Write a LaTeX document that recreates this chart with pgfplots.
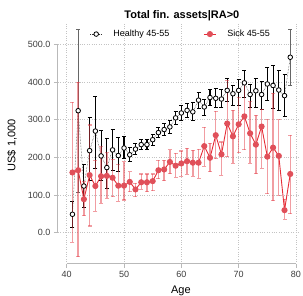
\documentclass[border=0pt]{standalone}
\usepackage{pgfplots}
\pgfplotsset{compat=1.18}
\usepackage{pgfplotstable}
\usepackage{fontspec}
\setmainfont{Liberation Sans}
\definecolor{redl}{RGB}{230,45,55}
\definecolor{redm}{RGB}{224,80,90}
\definecolor{redbar}{RGB}{228,60,70}
\definecolor{gridc}{RGB}{195,195,195}
\definecolor{axc}{RGB}{185,185,185}
\definecolor{tickc}{RGB}{60,60,60}

\pgfplotstableread{
x y ep em
41 49 34 35
43 124 56 56
44 218 88 78
45 270 93 98
46 204 68 64
47 173 77 55
48 220 55 55
49 205 47 42
50 225 30 28
51 207 20 19
52 222 16 15
53 234 14 14
54 234 14 14
55 247 15 15
56 266 14 14
57 274 16 15
58 281 17 17
59 305 17 18
60 318 19 19
61 325 18 19
62 321 24 22
63 352 20 21
64 334 21 22
65 359 21 22
66 357 26 23
67 355 25 23
68 378 32 30
69 369 23 30
70 378 30 41
71 398 32 40
72 367 27 34
73 377 34 43
74 367 35 39
75 395 44 43
76 391 52 61
77 379 53 55
78 364 56 56
}\healthyA

\pgfplotstableread{
x y ep em
42 324 216 216
79 466 74 74
}\healthyB

\pgfplotstableread{
x y
41 49
42 324
43 124
44 218
45 270
46 204
47 173
48 220
49 205
50 225
51 207
52 222
53 234
54 234
55 247
56 266
57 274
58 281
59 305
60 318
61 325
62 321
63 352
64 334
65 359
66 357
67 355
68 378
69 369
70 378
71 398
72 367
73 377
74 367
75 395
76 391
77 379
78 364
79 466
}\healthy

\pgfplotstableread{
x y ep em
41 160 186 185
42 166 233 230
43 89 46 44
44 153 133 135
45 124 69 67
46 150 78 72
47 151 61 60
48 146 49 50
49 125 55 41
50 125 63 38
51 135 27 26
52 115 16 19
53 134 22 19
54 134 22 25
55 137 19 25
56 166 27 22
57 168 25 30
58 188 33 31
59 178 33 31
60 184 33 34
61 190 34 35
62 186 33 36
63 186 36 41
64 230 50 53
65 199 38 37
66 259 64 62
67 208 33 55
68 290 115 88
69 256 69 72
70 288 70 75
71 309 87 88
72 264 84 80
73 234 78 77
74 282 46 111
75 202 98 98
76 226 144 141
77 204 96 104
78 60 29 24
79 156 103 106
}\sick

\begin{document}
\begin{tikzpicture}
\begin{axis}[
  at={(0,0)}, anchor=south west,
  scale only axis, width=242pt, height=242pt,
  xmin=38.48, xmax=80.7, ymin=-83, ymax=559.6,
  clip=false,
  axis x line*=bottom, axis y line*=left,
  axis line style={draw=none},
  xtick={40,50,60,70,80},
  ytick={0,100,200,300,400,500},
  tick align=outside,
  major tick length=4pt,
  tick style={axc, line width=0.8pt},
  grid=major,
  major grid style={gridc, dotted, line width=0.7pt},
  /pgf/number format/assume math mode=true,
  yticklabel style={/pgf/number format/.cd, fixed, fixed zerofill, precision=1},
  ticklabel style={font=\fontsize{9}{10}\selectfont, text=tickc},
  xlabel={Age},
  ylabel={US\$ 1,000},
  label style={font=\fontsize{11}{12}\selectfont},
  xlabel style={at={(axis description cs:0.508,-0.122)}, anchor=base},
  ylabel style={at={(axis description cs:-0.19,0.49)}, anchor=center, rotate=0},
  title={Total fin. assets|RA>0},
  title style={at={(axis description cs:0.512,1.002)}, anchor=center, yshift=0pt, font=\bfseries\fontsize{11}{12}\selectfont},
  legend style={at={(axis description cs:0.508,0.95)}, anchor=center, draw=none, fill=none,
    font=\fontsize{9}{10}\selectfont, legend columns=2,
    /tikz/every odd column/.append style={column sep=9pt},
    /tikz/every even column/.append style={column sep=32pt}},
  legend image code/.code={\draw[mark repeat=2,mark phase=2,#1] plot coordinates {(0pt,0pt) (6pt,0pt) (12pt,0pt)};},
]
\draw[axc, line width=1pt] (axis cs:40,-83) -- (axis cs:80,-83);
\draw[axc, line width=1pt] (axis cs:38.48,0) -- (axis cs:38.48,500);

% healthy error bars
\addplot[only marks, mark=none, black, forget plot,
  error bars/.cd, y dir=both, y explicit,
  error bar style={line width=1.1pt, black},
  error mark options={rotate=90, mark size=2pt, line width=0.9pt, black}]
  table[x=x, y=y, y error plus=ep, y error minus=em] {\healthyA};
\addplot[only marks, mark=none, black, forget plot,
  error bars/.cd, y dir=both, y explicit,
  error bar style={line width=1.1pt, black!60},
  error mark options={rotate=90, mark size=2pt, line width=0.9pt, black!60}]
  table[x=x, y=y, y error plus=ep, y error minus=em] {\healthyB};
% healthy line and marks
\addplot[black!80, densely dotted, line width=0.5pt,
  mark=*, mark size=2.3pt, mark options={solid, draw=black, fill=white, line width=0.8pt}]
  table[x=x, y=y] {\healthy};
\addlegendentry{Healthy 45-55}
% sick error bars
\addplot[only marks, mark=none, redbar, forget plot,
  error bars/.cd, y dir=both, y explicit,
  error bar style={line width=1.4pt, redbar, opacity=0.5},
  error mark options={rotate=90, mark size=2pt, line width=1.1pt, redbar, opacity=0.5}]
  table[x=x, y=y, y error plus=ep, y error minus=em] {\sick};
% sick line and marks
\addplot[redl, line width=0.9pt,
  mark=*, mark size=2.6pt, mark options={redm, fill=redm}]
  table[x=x, y=y] {\sick};
\addlegendentry{Sick 45-55}
\end{axis}
\pgfresetboundingbox
\path (-58pt,-32pt) rectangle (245pt,264pt);
\end{tikzpicture}
\end{document}
